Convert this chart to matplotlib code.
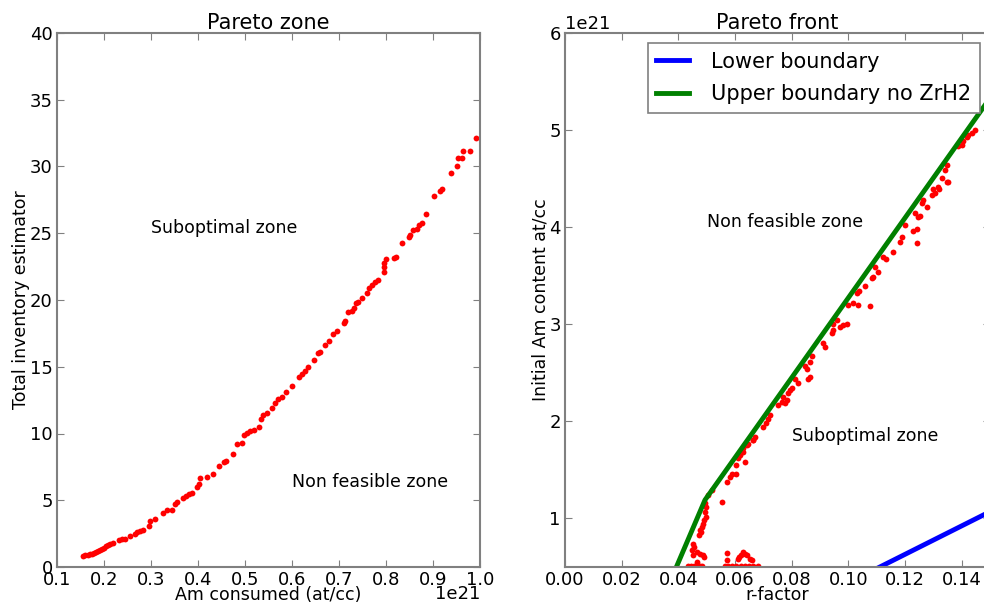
import numpy as np
import matplotlib
matplotlib.use("Agg")
import matplotlib.pyplot as plt

# left panel: Am consumed (x1e21) vs total inventory estimator
am_consumed = [
    0.155, 0.160, 0.165, 0.170, 0.174, 0.179, 0.184, 0.187, 0.191, 0.196,
    0.199, 0.204, 0.208, 0.213, 0.219, 0.231, 0.238, 0.245, 0.256, 0.265,
    0.270, 0.277, 0.284, 0.296, 0.298, 0.309, 0.325, 0.335, 0.345, 0.352,
    0.355, 0.369, 0.375, 0.380, 0.387, 0.398, 0.403, 0.405, 0.419, 0.431,
    0.444, 0.456, 0.460, 0.474, 0.483, 0.493, 0.497, 0.504, 0.511, 0.520,
    0.529, 0.534, 0.539, 0.547, 0.557, 0.564, 0.571, 0.578, 0.588, 0.600,
    0.614, 0.621, 0.628, 0.635, 0.646, 0.656, 0.660, 0.671, 0.678, 0.688,
    0.695, 0.710, 0.713, 0.720, 0.727, 0.731, 0.736, 0.741, 0.749, 0.759,
    0.763, 0.770, 0.777, 0.782, 0.796, 0.796, 0.796, 0.800, 0.816, 0.822,
    0.834, 0.848, 0.851, 0.858, 0.865, 0.871, 0.876, 0.885, 0.902, 0.915,
    0.920, 0.938, 0.951, 0.954, 0.961, 0.963, 0.979, 0.991,
]
inventory = [
    0.85, 0.88, 0.93, 0.98, 1.00, 1.05, 1.10, 1.20, 1.30, 1.38,
    1.45, 1.55, 1.63, 1.73, 1.80, 2.00, 2.08, 2.13, 2.30, 2.50,
    2.63, 2.70, 2.75, 3.10, 3.45, 3.63, 4.05, 4.25, 4.30, 4.75,
    4.88, 5.20, 5.30, 5.50, 5.55, 6.00, 6.20, 6.70, 6.75, 7.00,
    7.58, 7.88, 7.93, 8.50, 9.20, 9.30, 9.88, 10.05, 10.20, 10.25,
    10.50, 11.05, 11.38, 11.50, 11.88, 12.25, 12.55, 12.75, 13.13, 13.55,
    14.20, 14.45, 14.70, 15.00, 15.50, 16.00, 16.13, 16.63, 16.95, 17.45,
    17.70, 18.30, 18.43, 19.13, 19.18, 19.38, 19.75, 19.88, 20.18, 20.50,
    20.88, 21.13, 21.38, 21.50, 22.13, 22.50, 22.80, 23.05, 23.13, 23.25,
    24.25, 24.75, 24.88, 25.25, 25.30, 25.63, 25.80, 26.43, 27.78, 28.13,
    28.33, 29.53, 30.00, 30.63, 30.63, 31.13, 31.18, 32.13,
]

# right panel: r-factor vs initial Am content (x1e21)
r_factor = [
    0.0435, 0.0445, 0.0455, 0.0465, 0.0475, 0.0485,
    0.0565, 0.0575, 0.0590, 0.0605, 0.0620, 0.0635, 0.0650, 0.0665, 0.0680,
    0.0450, 0.0455, 0.0447, 0.0465, 0.0476, 0.0486, 0.0491, 0.0453, 0.0465,
    0.0571, 0.0573, 0.0615, 0.0620, 0.0627, 0.0635, 0.0612, 0.0641, 0.0653, 0.0659,
    0.0474, 0.0479, 0.0476, 0.0482, 0.0488, 0.0491, 0.0498, 0.0495, 0.0498, 0.0494,
    0.0506, 0.0518, 0.0553, 0.0573, 0.0582, 0.0588, 0.0603, 0.0603, 0.0612, 0.0617,
    0.0635, 0.0629, 0.0641, 0.0665,
    0.0629, 0.0647, 0.0662, 0.0670, 0.0700, 0.0709, 0.0718, 0.0723, 0.0753, 0.0765,
    0.0776, 0.0782, 0.0771, 0.0788, 0.0794, 0.0800, 0.0812, 0.0824, 0.0859, 0.0865,
    0.0853, 0.0847, 0.0865, 0.0871, 0.0912, 0.0918, 0.0941, 0.0947, 0.0945, 0.0959,
    0.0971, 0.0982, 0.0994, 0.1000, 0.1018, 0.1035, 0.1076,
    0.1029, 0.1039, 0.1059, 0.1083, 0.1088, 0.1094, 0.1106, 0.1124, 0.1133, 0.1159,
    0.1183, 0.1188, 0.1200, 0.1229, 0.1241, 0.1241, 0.1235, 0.1247, 0.1253, 0.1259,
    0.1265, 0.1276, 0.1294, 0.1306, 0.1300, 0.1318, 0.1321, 0.1329, 0.1347, 0.1353,
    0.1341, 0.1347, 0.1388, 0.1400, 0.1406, 0.1418, 0.1424, 0.1435, 0.1447,
]
am_initial = [
    0.51, 0.51, 0.51, 0.51, 0.51, 0.51,
    0.51, 0.51, 0.51, 0.51, 0.51, 0.51, 0.51, 0.51, 0.51,
    0.742, 0.701, 0.673, 0.656, 0.639, 0.622, 0.598, 0.622, 0.553,
    0.645, 0.570, 0.605, 0.622, 0.656, 0.639, 0.587, 0.622, 0.587, 0.570,
    0.828, 0.862, 0.886, 0.907, 0.948, 0.982, 1.017, 1.068, 1.120, 1.155,
    1.240, 1.292, 1.171, 1.377, 1.429, 1.463, 1.463, 1.549, 1.618, 1.652,
    1.583, 1.686, 1.755, 1.807,
    1.722, 1.766, 1.808, 1.842, 1.945, 1.979, 2.020, 2.065, 2.168, 2.203,
    2.185, 2.220, 2.247, 2.289, 2.323, 2.340, 2.433, 2.399, 2.433, 2.454,
    2.536, 2.571, 2.615, 2.674, 2.804, 2.770, 2.907, 2.942, 3.003, 3.045,
    2.969, 2.993, 3.003, 3.199, 3.216, 3.199, 3.189,
    3.320, 3.347, 3.395, 3.474, 3.491, 3.594, 3.543, 3.697, 3.670, 3.749,
    3.852, 3.897, 4.024, 3.965, 3.979, 3.835, 4.144, 4.110, 4.117, 4.247,
    4.281, 4.206, 4.333, 4.350, 4.391, 4.412, 4.391, 4.505, 4.470, 4.470,
    4.591, 4.643, 4.832, 4.849, 4.884, 4.928, 4.952, 4.970, 5.004,
]

lower_r = [0.077, 0.15]
lower_am = [0.0, 1.07]
upper_r = [0.032, 0.0494, 0.15]
upper_am = [0.0, 1.19, 5.33]

E21 = 1e21


def style_axes(ax):
    for sp in ax.spines.values():
        sp.set_color('#808080')
        sp.set_linewidth(1.5)
    ax.tick_params(direction='in', top=True, right=True, length=5,
                   color='#808080', labelsize=13, pad=3)
    ax.xaxis.get_offset_text().set_fontsize(13)
    ax.yaxis.get_offset_text().set_fontsize(13)


fig = plt.figure(figsize=(9.84, 6.03), dpi=100)
ax1 = fig.add_axes([57 / 984, 36 / 603, 423 / 984, 534 / 603])
ax2 = fig.add_axes([565 / 984, 36 / 603, 425 / 984, 534 / 603])

ax1.plot(np.array(am_consumed) * E21, inventory, 'o', color='red',
         markersize=4.2, markeredgewidth=0)
ax1.set_xlim(0.1 * E21, 1.0 * E21)
ax1.set_ylim(0, 40)
ax1.set_xticks(np.arange(1, 11) * 0.1 * E21)
ax1.set_yticks(range(0, 41, 5))
ax1.set_title('Pareto zone', fontsize=15, pad=3)
ax1.set_xlabel('Am consumed (at/cc)', fontsize=12.5, labelpad=-2.5)
ax1.set_ylabel('Total inventory estimator', fontsize=12.5, labelpad=0)
ax1.text(0.3 * E21, 25, 'Suboptimal zone', fontsize=12.5)
ax1.text(0.6 * E21, 6, 'Non feasible zone', fontsize=12.5)
style_axes(ax1)
# the x offset sits a bit higher than matplotlib's default spot
ax1.xaxis.get_offset_text().set_visible(False)
ax1.text(1.0, -0.05, '1e21', transform=ax1.transAxes, ha='right',
         va='center', fontsize=13)

ax2.plot(r_factor, np.array(am_initial) * E21, 'o', color='red',
         markersize=4.2, markeredgewidth=0)
ax2.plot(lower_r, np.array(lower_am) * E21, color='blue', lw=3.5,
         label='Lower boundary')
ax2.plot(upper_r, np.array(upper_am) * E21, color='green', lw=3.5,
         label='Upper boundary no ZrH2')
ax2.set_xlim(0, 0.15)
ax2.set_ylim(0.5 * E21, 6 * E21)
ax2.set_xticks(np.arange(0, 0.15, 0.02))
ax2.set_yticks(np.arange(1, 7) * E21)
ax2.set_title('Pareto front', fontsize=15, pad=3)
ax2.set_xlabel('r-factor', fontsize=12.5, labelpad=-2.5)
ax2.set_ylabel('Initial Am content at/cc', fontsize=12.5, labelpad=0)
ax2.text(0.05, 4 * E21, 'Non feasible zone', fontsize=12.5)
ax2.text(0.08, 1.8 * E21, 'Suboptimal zone', fontsize=12.5)
leg = ax2.legend(loc='upper right', fontsize=15, fancybox=False,
                 framealpha=1, handlelength=1.6, handletextpad=1.05,
                 borderaxespad=0.5, labelspacing=0.6)
leg.get_frame().set_edgecolor('#808080')
leg.get_frame().set_linewidth(1.2)
style_axes(ax2)

fig.savefig('out.png', dpi=100)
